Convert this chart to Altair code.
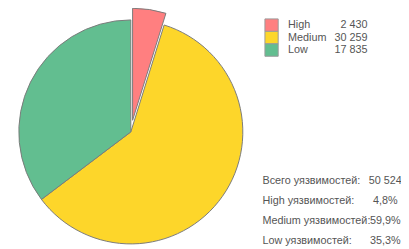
import math
import altair as alt
import pandas as pd

categories = ["High", "Medium", "Low"]
counts = [2430, 30259, 17835]
colors = ["#ff7f80", "#fdd62a", "#62be90"]
summary_labels = ["Всего уязвимостей:", "High уязвимостей:", "Medium уязвимостей:", "Low уязвимостей:"]

total = sum(counts)


def fmt_int(v):
    return f"{v:,}".replace(",", " ")


def fmt_pct(v):
    return f"{v * 100:.1f}%".replace(".", ",")


pie_df = pd.DataFrame({
    "cat": categories,
    "count": counts,
    "idx": list(range(len(categories))),
})
legend_df = pd.DataFrame({
    "cat": categories,
    "label": categories,
    "value": [fmt_int(c) for c in counts],
})
summary_df = pd.DataFrame({
    "row": list(range(len(summary_labels))),
    "label": summary_labels,
    "value": [fmt_int(total)] + [fmt_pct(c / total) for c in counts],
})

CX, CY, R = 125.0, 124.0, 114
EXPLODE = 12
frac_high = counts[0] / total
mid = math.pi * frac_high
dx = EXPLODE * math.sin(mid)
dy = -EXPLODE * math.cos(mid)

color_scale = alt.Scale(domain=categories, range=colors)
FONT = "Liberation Sans"
TXT = "#555555"

base = alt.Chart(pie_df).mark_arc(radius=R, stroke="#7a7a7a", strokeWidth=1).encode(
    theta=alt.Theta("count:Q", stack=True),
    order=alt.Order("idx:Q"),
    color=alt.Color("cat:N", scale=color_scale, legend=None),
)

pie_main = base.encode(
    x=alt.value(CX), y=alt.value(CY),
    opacity=alt.condition(alt.datum.cat == "High", alt.value(0), alt.value(1)),
)
pie_explode = base.encode(
    x=alt.value(CX + dx), y=alt.value(CY + dy),
    opacity=alt.condition(alt.datum.cat == "High", alt.value(1), alt.value(0)),
)

leg_y = alt.Y("cat:N", scale=alt.Scale(domain=categories, range=[9.0, 47.0], paddingInner=0, paddingOuter=0), axis=None)

swatches = alt.Chart(legend_df).mark_rect(stroke="#9a9a9a", strokeWidth=1).encode(
    x=alt.value(261.5), x2=alt.value(275),
    y=leg_y,
    color=alt.Color("cat:N", scale=color_scale, legend=None),
)
leg_labels = alt.Chart(legend_df).mark_text(align="left", baseline="middle", font=FONT, fontSize=11, color=TXT).encode(
    x=alt.value(285), y=leg_y, text="label:N",
)
leg_values = alt.Chart(legend_df).mark_text(align="right", baseline="middle", font=FONT, fontSize=11, color=TXT).encode(
    x=alt.value(366), y=leg_y, text="value:N",
)

sum_y = alt.Y("row:O", scale=alt.Scale(type="point", range=[174, 235], padding=0), axis=None)

sum_labels = alt.Chart(summary_df).mark_text(align="left", baseline="middle", font=FONT, fontSize=11, color=TXT).encode(
    x=alt.value(259), y=sum_y, text="label:N",
)
sum_values = alt.Chart(summary_df).mark_text(align="center", baseline="middle", font=FONT, fontSize=11, color=TXT).encode(
    x=alt.value(384), y=sum_y, text="value:N",
)

chart = alt.layer(
    pie_main, pie_explode, swatches, leg_labels, leg_values, sum_labels, sum_values
).resolve_scale(y="independent").properties(
    width=400, height=238, padding=0,
    autosize=alt.AutoSizeParams(type="none"),
).configure_view(strokeWidth=0)

chart.save("out.html", embed_options={"renderer": "svg", "actions": False})
